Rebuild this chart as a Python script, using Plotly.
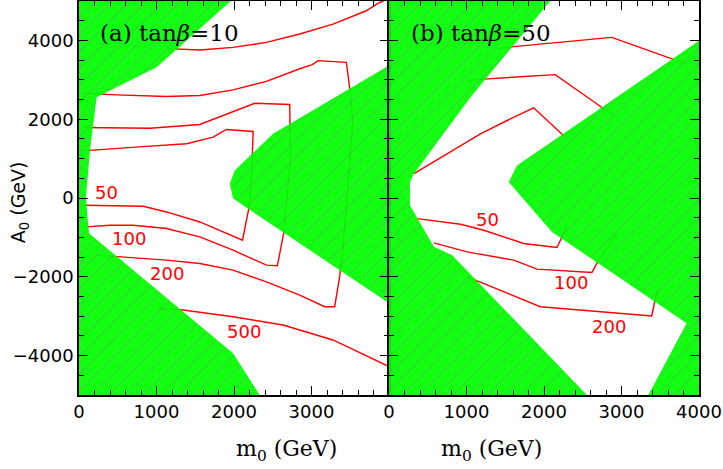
"""
Contornos em (m0, A0) para tanβ=10 e tanβ=50, com regiões excluídas em verde.
"""

import plotly.graph_objects as go

# --- painel (a) tanβ=10 : regiões excluídas ---
a_verde1_x = [0, 1959, 1001, 228, 142, 90, 120, 133, 1988, 2332, 0]
a_verde1_y = [5000, 5000, 3316, 2557, 1207, 25, -734, -901, -3939, -5000, -5000]
a_verde2_x = [4000, 2504, 2010, 1946, 1988, 4000]
a_verde2_y = [3360, 1630, 701, 364, -15, -2674]

# --- painel (a) : contornos ---
a_c50_x = [35, 142, 915, 1388, 1731, 1903, 2247, 2225, 2195, 2110, 1559, 1129, 829, 271, 60]
a_c50_y = [1208, 1208, 1316, 1377, 1544, 1739, 1689, 430, -228, -1071, -608, -354, -210, -185, -185]
a_c100_x = [60, 271, 915, 1559, 1988, 2160, 2268, 2719, 2730, 2640, 2560, 2418, 1988, 1559, 1129, 700, 399, 100]
a_c100_y = [1790, 1782, 1772, 1866, 2195, 2322, 2405, 2372, 1000, -901, -1721, -1704, -1324, -987, -775, -691, -691, -734]
a_c200_x = [60, 486, 1130, 1559, 1988, 2418, 2848, 3010, 3084, 3450, 3492, 3535, 3406, 3363, 3299, 3170, 2848, 2418, 1988, 1559, 1129, 486, 228]
a_c200_y = [2660, 2618, 2575, 2600, 2744, 2960, 3280, 3385, 3486, 3443, 2810, 1967, -1281, -2000, -2759, -2759, -2463, -2127, -1830, -1661, -1577, -1494, -1451]
a_c500a_x = [1150, 1302, 1559, 1988, 2418, 2848, 3277, 3707, 3879, 3930]
a_c500a_y = [3790, 3782, 3757, 3823, 3949, 4162, 4415, 4752, 4962, 5000]
a_c500b_x = [1001, 1344, 1988, 2633, 3277, 4000]
a_c500b_y = [-2800, -2843, -3013, -3223, -3603, -4278]

# --- painel (b) tanβ=50 : regiões excluídas ---
b_verde1_x = [0, 2081, 1051, 322, 270, 270, 579, 816, 2553, 0]
b_verde1_y = [5000, 5000, 2557, 618, 405, -185, -1240, -1450, -5000, -5000]
b_verde2_x = [4000, 1652, 1544, 2103, 3840, 3346, 4000]
b_verde2_y = [3992, 828, 405, -861, -3180, -5000, -5000]

# --- painel (b) : contornos ---
b_c1_x = [1395, 1609, 2875, 3712, 3850]
b_c1_y = [3782, 3841, 4076, 3486, 3390]
b_c2_x = [1009, 1266, 2145, 2896]
b_c2_y = [2980, 3023, 3132, 2094]
b_c3_x = [322, 751, 1180, 1524, 1866, 2296]
b_c3_y = [618, 1124, 1630, 1967, 2289, 1504]
b_c50_x = [365, 923, 1223, 1737, 2167, 2232, 2296]
b_c50_y = [-522, -666, -818, -1155, -1256, -987, -734]
b_c100_x = [579, 1009, 1609, 1910, 2618, 2682, 2940]
b_c100_y = [-1140, -1367, -1577, -1805, -1889, -1661, -901]
b_c200_x = [1009, 1138, 1952, 3390, 3432, 3470]
b_c200_y = [-2000, -2101, -2759, -2995, -2590, -2300]

# rótulos dos contornos
a_rotulos = ["50", "100", "200", "500"]
a_rot_x = [361, 644, 1134, 2135]
a_rot_y = [152, -1038, -1924, -3392]
b_rotulos = ["50", "100", "200"]
b_rot_x = [1268, 2342, 2840]
b_rot_y = [-539, -2139, -3273]

VERMELHO = "#ff0000"
VERDE = "#00ff00"
SANS = "DejaVu Sans"
SERIF = "DejaVu Serif"

fig = go.Figure()

contornos = [
    ("x", "y", a_c50_x, a_c50_y), ("x", "y", a_c100_x, a_c100_y),
    ("x", "y", a_c200_x, a_c200_y), ("x", "y", a_c500a_x, a_c500a_y),
    ("x", "y", a_c500b_x, a_c500b_y),
    ("x2", "y2", b_c1_x, b_c1_y), ("x2", "y2", b_c2_x, b_c2_y),
    ("x2", "y2", b_c3_x, b_c3_y), ("x2", "y2", b_c50_x, b_c50_y),
    ("x2", "y2", b_c100_x, b_c100_y), ("x2", "y2", b_c200_x, b_c200_y),
]
for xa, ya, xs, ys in contornos:
    fig.add_trace(go.Scatter(
        x=xs, y=ys, xaxis=xa, yaxis=ya, mode="lines",
        line=dict(color=VERMELHO, width=1.4),
        hoverinfo="skip", showlegend=False,
    ))

# regiões verdes por cima (levemente transparentes, com hachura)
verdes = [
    ("x", "y", a_verde1_x, a_verde1_y), ("x", "y", a_verde2_x, a_verde2_y),
    ("x2", "y2", b_verde1_x, b_verde1_y), ("x2", "y2", b_verde2_x, b_verde2_y),
]
for xa, ya, xs, ys in verdes:
    fig.add_trace(go.Scatter(
        x=xs, y=ys, xaxis=xa, yaxis=ya, mode="lines",
        fill="toself", fillcolor=VERDE,
        fillpattern=dict(shape="/", bgcolor=VERDE, fgcolor="#17e017",
                         size=12, solidity=0.15, fillmode="replace"),
        line=dict(width=0, color=VERDE),
        opacity=0.93,
        hoverinfo="skip", showlegend=False,
    ))

anotacoes = []
for t, x, y in zip(a_rotulos, a_rot_x, a_rot_y):
    anotacoes.append(dict(text=t, x=x, y=y, xref="x", yref="y", showarrow=False,
                          font=dict(family=SANS, size=18, color=VERMELHO)))
for t, x, y in zip(b_rotulos, b_rot_x, b_rot_y):
    anotacoes.append(dict(text=t, x=x, y=y, xref="x2", yref="y2", showarrow=False,
                          font=dict(family=SANS, size=18, color=VERMELHO)))

anotacoes += [
    dict(text="(a) tan<i>β</i>=10", x=250, y=4195, xref="x", yref="y",
         xanchor="left", showarrow=False, font=dict(family=SERIF, size=23, color="black")),
    dict(text="(b) tan<i>β</i>=50", x=260, y=4195, xref="x2", yref="y2",
         xanchor="left", showarrow=False, font=dict(family=SERIF, size=23, color="black")),
    dict(text="m<sub>0</sub> (GeV)", x=0.25, y=-0.183, xref="paper", yref="paper",
         showarrow=False, font=dict(family=SERIF, size=22, color="black")),
    dict(text="m<sub>0</sub> (GeV)", x=0.75, y=-0.183, xref="paper", yref="paper",
         showarrow=False, font=dict(family=SERIF, size=22, color="black")),
    dict(text="A<sub>0</sub> (GeV)", x=-0.118, y=0.49, xref="paper", yref="paper",
         textangle=-90, showarrow=False, font=dict(family=SANS, size=19, color="black")),
]

EIXO_X = dict(
    range=[0, 4000], showgrid=False, zeroline=False, automargin=False,
    showline=True, linecolor="black", linewidth=1.5, mirror="ticks",
    ticks="inside", ticklen=9, tickwidth=1.3, tickcolor="black",
    minor=dict(dtick=200, ticklen=5, tickwidth=1.2, ticks="inside", tickcolor="black"),
    tickfont=dict(family=SANS, size=18, color="black"),
)
EIXO_Y = dict(
    range=[-5000, 5000], showgrid=False, zeroline=False, automargin=False,
    showline=True, linecolor="black", linewidth=1.5, mirror="ticks",
    ticks="inside", ticklen=9, tickwidth=1.3, tickcolor="black",
    tickvals=[-4000, -2000, 0, 2000, 4000],
    ticktext=["\u22124000", "\u22122000", "0", "2000", "4000"],
    minor=dict(dtick=500, ticklen=5, tickwidth=1.2, ticks="inside", tickcolor="black"),
    tickfont=dict(family=SANS, size=18, color="black"),
)

fig.update_layout(
    width=723, height=469,
    paper_bgcolor="white", plot_bgcolor="white",
    margin=dict(l=79, r=24, t=1, b=74, autoexpand=False),
    xaxis=dict(**EIXO_X, domain=[0, 0.5], anchor="y",
               tickvals=[0, 1000, 2000, 3000, 4000],
               ticktext=["0", "1000", "2000", "3000", ""]),
    yaxis=dict(**EIXO_Y, domain=[0, 1], anchor="x"),
    xaxis2=dict(**EIXO_X, domain=[0.5, 1], anchor="y2",
                tickvals=[0, 1000, 2000, 3000, 4000]),
    yaxis2=dict(**EIXO_Y, domain=[0, 1], anchor="x2", showticklabels=False),
    annotations=anotacoes,
    showlegend=False,
)

# tira a margem padrão do <body> para a figura ficar no canto da janela
fig.write_html("out.html", config={"displayModeBar": False},
               post_script="document.body.style.margin='0';")
